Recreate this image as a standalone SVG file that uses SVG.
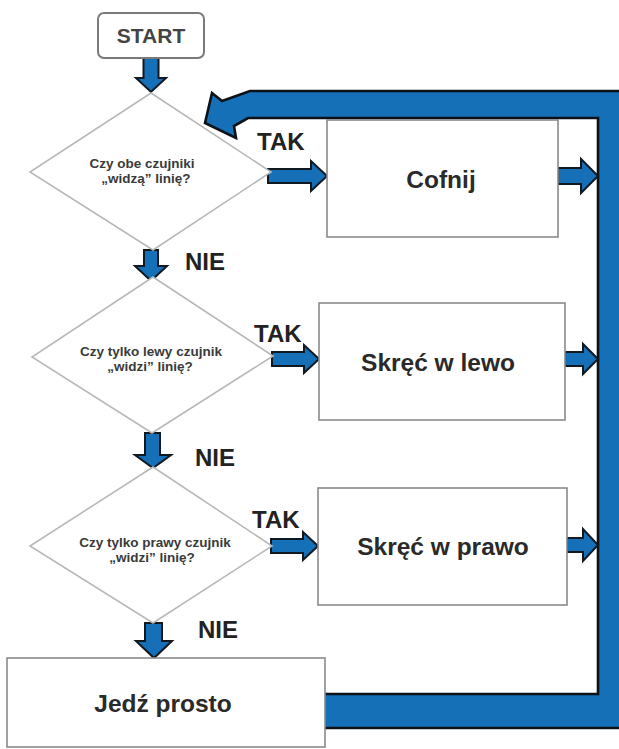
<svg xmlns="http://www.w3.org/2000/svg" width="619" height="749" viewBox="0 0 619 749">
<style>
.box{fill:#fff;stroke:#8a8a8a;stroke-width:1.6}
.dia{fill:#fff;stroke:#b8b8b8;stroke-width:1.6}
.arr{fill:#1570b8;stroke:#101820;stroke-width:2;stroke-linejoin:miter}
.loop{fill:#1570b8;stroke:#0d1218;stroke-width:2.6;stroke-linejoin:miter}
.q{font-family:"Liberation Sans",Arial,sans-serif;font-size:13.5px;font-weight:bold;fill:#3a3a3a;text-anchor:middle}
.lbl{font-family:"Liberation Sans",Arial,sans-serif;font-size:24.5px;font-weight:bold;fill:#2a2a2a;text-anchor:middle}
.yn{font-family:"Liberation Sans",Arial,sans-serif;font-size:24px;font-weight:bold;fill:#222}
.st{font-family:"Liberation Sans",Arial,sans-serif;font-size:21px;font-weight:bold;fill:#444;text-anchor:middle}
</style>
<rect width="619" height="749" fill="#fff"/>

<g id="connectors">
  <!-- return loop -->
  <polygon class="loop" points="250,91 626,91 626,728 323,728 323,694 598,694 598,118 248,118 234,126 236,138 205,123 212,93 222,101"/>
  <!-- down arrows -->
  <polygon class="arr" points="143.5,58 158.5,58 158.5,78 166,78 151,92 136,78 143.5,78"/>
  <polygon class="arr" points="144,250 158,250 158,266 167,266 151,281 135,266 144,266"/>
  <polygon class="arr" points="145,433 160,433 160,455 171,455 153,468 135,455 145,455"/>
  <polygon class="arr" points="145,623 162,623 162,641 172,641 154,658 136,641 145,641"/>
  <!-- TAK arrows -->
  <polygon class="arr" points="268,169 311,169 311,161 327,176 311,191 311,183 268,183"/>
  <polygon class="arr" points="272,352 304,352 304,345 319,359 304,373 304,366 272,366"/>
  <polygon class="arr" points="271,539 303,539 303,532 318,546 303,560 303,553 271,553"/>
  <!-- exit arrows -->
  <polygon class="arr" points="558,168 581,168 581,159 598,176 581,193 581,184 558,184"/>
  <polygon class="arr" points="565,352 583,352 583,344 598,359 583,374 583,366 565,366"/>
  <polygon class="arr" points="567,538 583,538 583,529 598,545 583,561 583,552 567,552"/>
</g>

<g id="start">
  <rect x="98" y="13" width="106" height="45" rx="6" fill="#fff" stroke="#7a7a7a" stroke-width="2"/>
  <text class="st" x="151" y="43">START</text>
</g>

<g id="q1">
  <polygon class="dia" points="151,93 271,172 153,250 30,172"/>
  <text class="q" x="142" y="168">Czy obe czujniki</text>
  <text class="q" x="146" y="183">„widzą” linię?</text>
</g>

<g id="q2">
  <polygon class="dia" points="153,277 273,356 152,433 32,357"/>
  <text class="q" x="151" y="356">Czy tylko lewy czujnik</text>
  <text class="q" x="150" y="371">„widzi” linię?</text>
</g>

<g id="q3">
  <polygon class="dia" points="153,467 272,546 153,623 30,546"/>
  <text class="q" x="155" y="547">Czy tylko prawy czujnik</text>
  <text class="q" x="152" y="562">„widzi” linię?</text>
</g>

<g id="cofnij">
  <rect class="box" x="327" y="120" width="231" height="117"/>
  <text class="lbl" x="441" y="188">Cofnij</text>
</g>

<g id="lewo">
  <rect class="box" x="319" y="303" width="246" height="117"/>
  <text class="lbl" x="438" y="371">Skręć w lewo</text>
</g>

<g id="prawo">
  <rect class="box" x="318" y="488" width="249" height="117"/>
  <text class="lbl" x="443" y="555">Skręć w prawo</text>
</g>

<g id="prosto">
  <rect class="box" x="7" y="658" width="318" height="89"/>
  <text class="lbl" x="163" y="712">Jedź prosto</text>
</g>

<g id="labels">
  <text class="yn" x="257" y="150">TAK</text>
  <text class="yn" x="254" y="342">TAK</text>
  <text class="yn" x="252" y="528">TAK</text>
  <text class="yn" x="185" y="270">NIE</text>
  <text class="yn" x="195" y="466">NIE</text>
  <text class="yn" x="198" y="638">NIE</text>
</g>
</svg>
